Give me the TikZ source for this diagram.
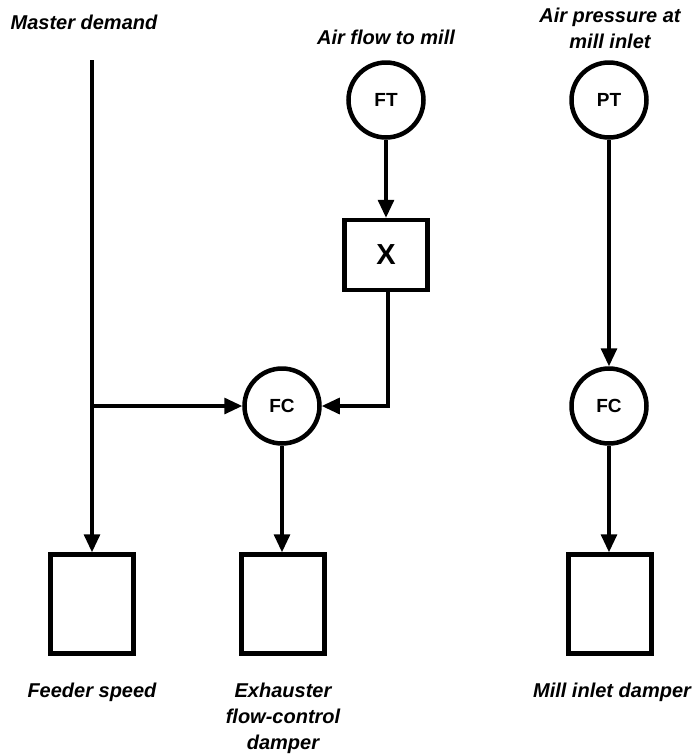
\documentclass[tikz,border=0pt]{standalone}
\usepackage{fontspec}
\setmainfont{Liberation Sans}
\usetikzlibrary{arrows.meta}
\begin{document}
\begin{tikzpicture}[x=1pt,y=-1pt,
  lbl/.style={font=\fontsize{20}{26}\selectfont\bfseries\itshape, align=center, inner sep=0pt},
  circ/.style={circle, draw, line width=4.5pt, minimum size=75pt, inner sep=0pt, font=\fontsize{19}{22}\selectfont\bfseries},
  blk/.style={draw, line width=4.5pt, minimum width=83pt, minimum height=99pt, inner sep=0pt},
  xbox/.style={draw, line width=4.5pt, minimum width=83pt, minimum height=70pt, inner sep=0pt, font=\fontsize{29}{32}\selectfont\bfseries},
  conn/.style={line width=3.2pt, -{Triangle[length=18pt,width=16pt]}}
]
\useasboundingbox (0,0) rectangle (699,756);
% top labels
\node[lbl] (mdl) at (84,22) {Master demand};
\node[lbl] (afl) at (386,37) {Air flow to mill};
\node[lbl] (apl) at (610,28) {Air pressure at\\mill inlet};
% instruments
\node[circ] (ft) at (386,100) {FT};
\node[circ] (pt) at (609,100) {PT};
\node[xbox] (x) at (386,255) {X};
\node[circ] (fc1) at (282,406) {FC};
\node[circ] (fc2) at (609,406) {FC};
% final elements
\node[blk] (feed) at (92,604) {};
\node[blk] (exh) at (283,604) {};
\node[blk] (mid) at (610,604) {};
% bottom labels
\node[lbl] (fsl) at (92,692) {Feeder speed};
\node[lbl] (exl) at (283,718) {Exhauster\\flow-control\\damper};
\node[lbl] (mil) at (612,692) {Mill inlet damper};
% connectors
\coordinate (mdtop) at (92,60);
\coordinate (junc) at (92,406);
\draw[conn] (mdtop) -- (feed.north);
\draw[conn] (junc) -- (fc1.west);
\draw[conn] (ft) -- (x);
\draw[conn] ([xshift=2pt]x.south) |- (fc1.east);
\draw[conn] (fc1.south) -- (fc1.south |- exh.north);
\draw[conn] (pt) -- (fc2);
\draw[conn] (fc2.south) -- (fc2.south |- mid.north);
\end{tikzpicture}
\end{document}
